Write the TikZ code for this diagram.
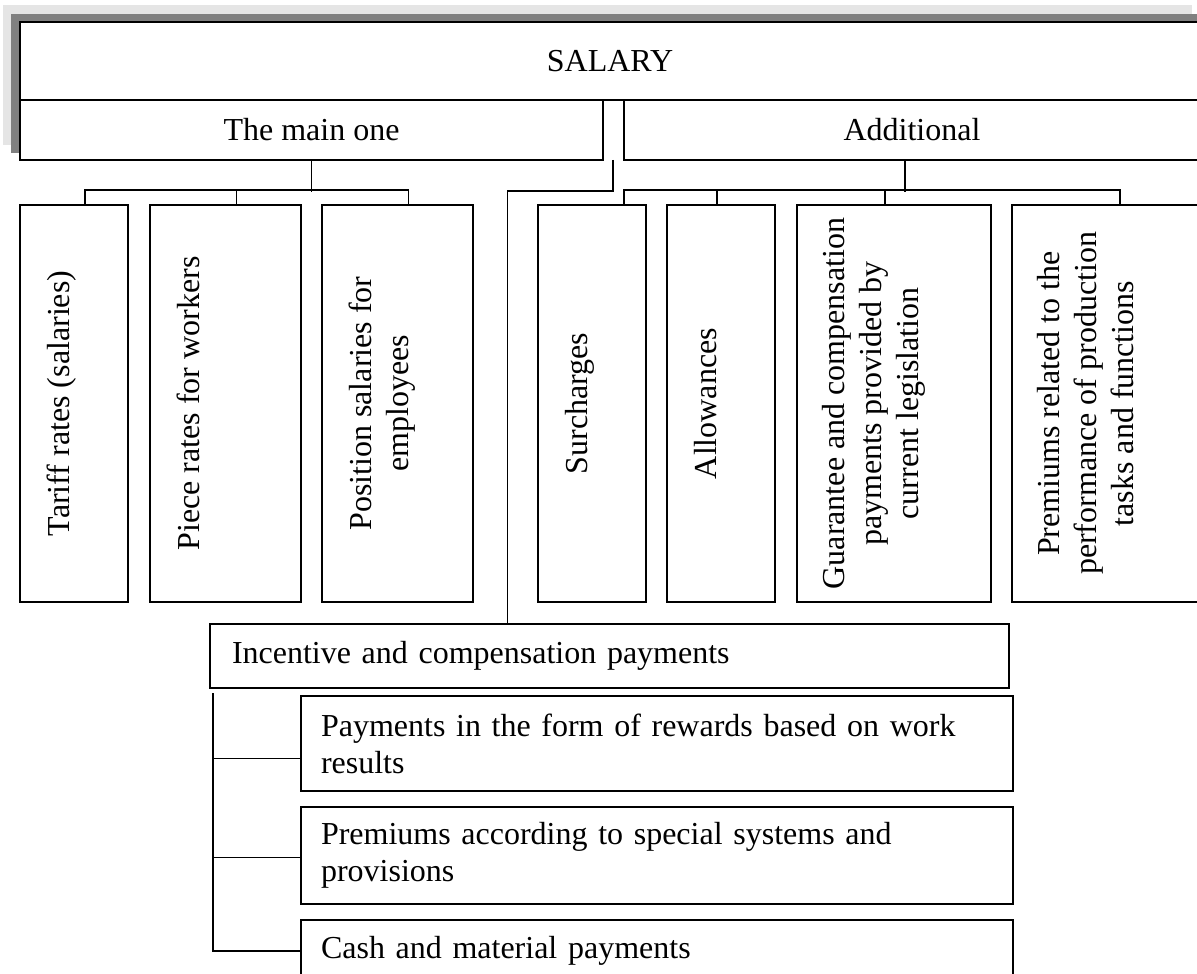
\documentclass[tikz,border=0pt]{standalone}
\usepackage{fontspec}
\setmainfont{Liberation Serif}
\begin{document}
\begin{tikzpicture}[x=0.5pt, y=-0.5pt,
  every node/.style={font=\fontsize{16}{18.4}\selectfont},
  box/.style={draw, line width=1pt, fill=white, inner sep=0pt},
  hbox/.style={box, align=left},
  vtext/.style={rotate=90, anchor=north, inner sep=0pt, align=center},
  link/.style={line width=0.7pt}]
\useasboundingbox (0,0) rectangle (1197,973);
\clip (0,0) rectangle (1197,973);

% shadow behind the top block
\fill[gray!20] (3,5) rectangle (1192,145);
\fill[gray] (11,14) rectangle (1210,153);
\fill[white] (20,22) rectangle (1210,161);

\node[box, minimum width=590pt, minimum height=39pt] (salary) at (610,61) {SALARY};
\node[box, minimum width=291.5pt, minimum height=30pt] (main) at (311.5,130) {The main one};
\node[box, minimum width=288pt, minimum height=30pt] (additional) at (912,130) {Additional};

% columns
\node[box, minimum width=54pt, minimum height=198.5pt] (tariff) at (74,403.5) {};
\node[box, minimum width=75.5pt, minimum height=198.5pt] (piece) at (225.5,403.5) {};
\node[box, minimum width=75.5pt, minimum height=198.5pt] (position) at (397.5,403.5) {};
\node[box, minimum width=54pt, minimum height=198.5pt] (surcharges) at (592,403.5) {};
\node[box, minimum width=54pt, minimum height=198.5pt] (allowances) at (721,403.5) {};
\node[box, minimum width=97pt, minimum height=198.5pt] (guarantee) at (894,403.5) {};
\node[box, minimum width=99pt, minimum height=198.5pt] (premiums) at (1111,403.5) {};

\node[vtext] (tariff-t) at ([xshift=14pt]tariff.west) {Tariff rates (salaries)};
\node[vtext] (piece-t) at ([xshift=14pt]piece.west) {Piece rates for workers};
\node[vtext] (position-t) at ([xshift=14pt]position.west) {Position salaries for\\employees};
\node[vtext] (surcharges-t) at ([xshift=14pt]surcharges.west) {Surcharges};
\node[vtext] (allowances-t) at ([xshift=14pt]allowances.west) {Allowances};
\node[vtext] (guarantee-t) at ([xshift=13pt]guarantee.west) {Guarantee and compensation\\payments provided by\\current legislation};
\node[vtext] (premiums-t) at ([xshift=13pt]premiums.west) {Premiums related to the\\performance of production\\tasks and functions};

% incentive block
\node[hbox, minimum width=399.5pt, minimum height=32pt, text width=377.5pt, inner xsep=11pt] (incentive) at (609.5,656) {Incentive and compensation payments};
\node[hbox, minimum width=356pt, minimum height=47.5pt, text width=336pt, inner xsep=10pt] (rewards) at (657,743.5) {Payments in the form of rewards based on work\\results};
\node[hbox, minimum width=356pt, minimum height=48.5pt, text width=336pt, inner xsep=10pt] (special) at (657,855.5) {Premiums according to special systems and\\provisions};
\node[hbox, minimum width=356pt, minimum height=31pt, text width=336pt, inner xsep=10pt] (cash) at (657,951) {Cash and material payments};

% connectors
\draw[link] (main.south) -- ++(0,31);
\draw[link] ([xshift=5.5pt]tariff.north) -- ++(0,-14) -| ([xshift=5.5pt]position.north);
\draw[link] ([xshift=5.5pt]piece.north) -- ++(0,-14);

\draw[link] ([xshift=-3.5pt]additional.south) -- ++(0,31);
\draw[link] ([xshift=16pt]surcharges.north) -- ++(0,-14) -| ([xshift=4.5pt]premiums.north);
\draw[link] ([xshift=-2pt]allowances.north) -- ++(0,-14);
\draw[link] ([xshift=-4.5pt]guarantee.north) -- ++(0,-14);

\coordinate (gap) at (613,160);
\draw[link] (gap) -- ++(0,31) -| ([xshift=-51pt]incentive.north);

\coordinate (trunk) at ([shift={(2pt,-2pt)}]incentive.south west);
\foreach \b/\s in {rewards/-7.5pt, special/-1pt, cash/0pt}
  \draw[link] (trunk) |- ([yshift=\s]\b.west);
\end{tikzpicture}
\end{document}
